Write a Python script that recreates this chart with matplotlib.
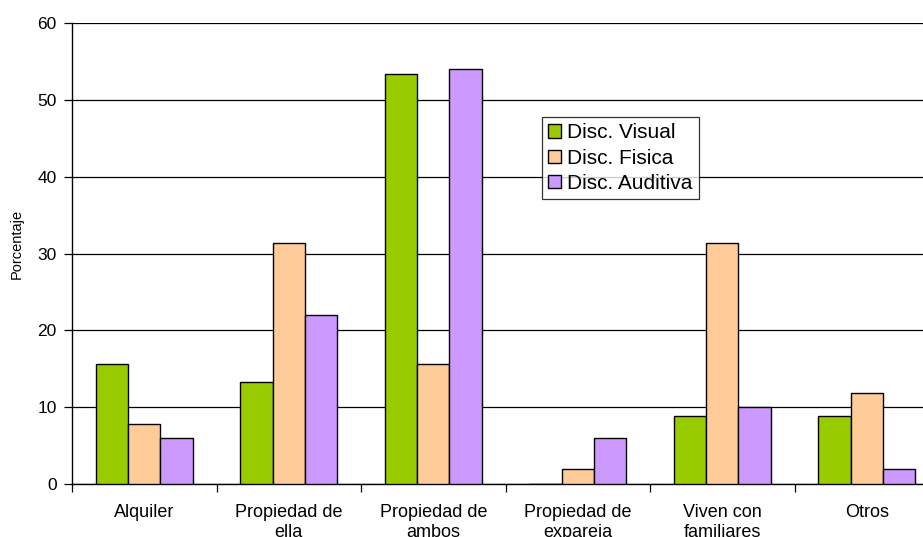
import numpy as np
import matplotlib
matplotlib.use("Agg")
import matplotlib.pyplot as plt
from matplotlib.ticker import FixedLocator

plt.rcParams['font.family'] = ['Liberation Sans', 'DejaVu Sans']

categories = ["Alquiler", "Propiedad de\nella", "Propiedad de\nambos",
              "Propiedad de\nexpareja", "Viven con\nfamiliares", "Otros"]
series_names = ["Disc. Visual", "Disc. Fisica", "Disc. Auditiva"]
visual = [15.6, 13.3, 53.3, 0.0, 8.9, 8.9]
fisica = [7.8, 31.4, 15.6, 2.0, 31.4, 11.8]
auditiva = [6.0, 22.0, 54.0, 6.0, 10.0, 2.0]
colors = ["#99CC00", "#FFCC99", "#CC99FF"]

W, H = 923, 537
fig = plt.figure(figsize=(W / 100, H / 100), dpi=100)
# axes run past the right edge of the picture, as in the reference
ax = fig.add_axes([72 / W, 53 / H, 867 / W, 461 / H])

x = np.arange(len(categories))
w = 0.223
for k, (vals, name) in enumerate(zip([visual, fisica, auditiva], series_names)):
    ax.bar(x + (k - 1) * w, vals, width=w, color=colors[k], edgecolor="black",
           linewidth=1.0, label=name, zorder=3)

ax.set_xlim(-0.5, len(categories) - 0.5)
ax.set_ylim(0, 60)
ax.set_yticks(range(0, 61, 10))
ax.yaxis.grid(True, color="black", linewidth=0.9, zorder=0)
ax.set_axisbelow(True)

# ticks at category boundaries, labels at centers
ax.xaxis.set_major_locator(FixedLocator(np.arange(-0.5, len(categories), 1.0)))
ax.xaxis.set_major_formatter(plt.NullFormatter())
ax.xaxis.set_minor_locator(FixedLocator(x))
ax.set_xticklabels(categories, minor=True, fontsize=13, linespacing=1.25)
ax.tick_params(axis="x", which="major", direction="out", length=6, width=0.9)
ax.tick_params(axis="x", which="minor", length=0, pad=14.5)
ax.tick_params(axis="y", direction="out", length=6, width=0.9, labelsize=12.5, pad=5)

for side in ("top", "right"):
    ax.spines[side].set_visible(False)
for side in ("left", "bottom"):
    ax.spines[side].set_linewidth(1.0)

ax.set_ylabel("Porcentaje", fontsize=10.5)
ax.yaxis.set_label_coords(-0.0555, 0.521)

leg = ax.legend(loc="upper left", bbox_to_anchor=(0.542, 0.796), borderaxespad=0,
                fontsize=15, frameon=True, fancybox=False, handlelength=0.6,
                handleheight=0.6, handletextpad=0.3, labelspacing=0.3,
                borderpad=0.3)
leg.get_frame().set_edgecolor("black")
leg.get_frame().set_linewidth(0.9)

fig.savefig("out.png", dpi=100)
